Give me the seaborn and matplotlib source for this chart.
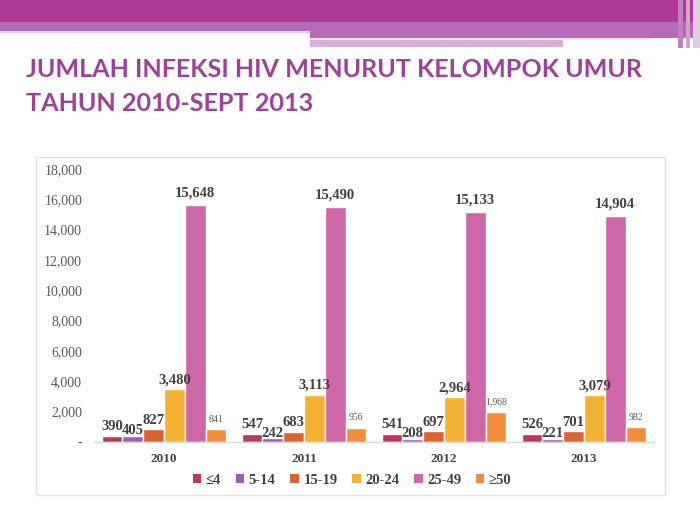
import matplotlib
matplotlib.use("Agg")
import matplotlib.pyplot as plt
from matplotlib.patches import Rectangle
import seaborn as sns
import pandas as pd

years = ["2010", "2011", "2012", "2013"]
groups = ["≤4", "5-14", "15-19", "20-24", "25-49", "≥50"]
v_le4 = [390, 547, 541, 526]
v_5_14 = [405, 242, 208, 221]
v_15_19 = [827, 683, 697, 701]
v_20_24 = [3480, 3113, 2964, 3079]
v_25_49 = [15648, 15490, 15133, 14904]
v_ge50 = [841, 956, 1968, 982]
yticks = [0, 2000, 4000, 6000, 8000, 10000, 12000, 14000, 16000, 18000]
ytick_labels = ["-", "2,000", "4,000", "6,000", "8,000", "10,000", "12,000", "14,000", "16,000", "18,000"]
title_text = "JUMLAH INFEKSI HIV MENURUT KELOMPOK UMUR\nTAHUN 2010-SEPT 2013"

colors = ["#C0365A", "#A15BB8", "#DA6330", "#F4B235", "#CE67A7", "#F28D3C"]

series = [v_le4, v_5_14, v_15_19, v_20_24, v_25_49, v_ge50]
rows = []
for g, vals in zip(groups, series):
    for y, v in zip(years, vals):
        rows.append({"Tahun": y, "Kelompok": g, "Jumlah": v})
df = pd.DataFrame(rows)

sns.set_theme(style="white")
W, H = 700, 525
fig = plt.figure(figsize=(7, 5.25), dpi=100)
fig.patch.set_facecolor("white")

def prect(x0, y0, x1, y1, color, z=0):
    fig.add_artist(Rectangle((x0 / W, 1 - y1 / H), (x1 - x0) / W, (y1 - y0) / H,
                             transform=fig.transFigure, facecolor=color,
                             edgecolor="none", zorder=z))

# top banner
prect(0, 0, 700, 22, "#AE3A96")
prect(0, 22, 700, 31, "#B46BB7")
prect(0, 31, 310, 33, "#E9CDE6")
prect(310, 31, 700, 38, "#B46BB7")
prect(310, 38, 650, 40, "#F2E3F1")
prect(310, 40, 563, 47, "#D5B0D8")
prect(678, 0, 683, 48, "#C27FBF", 1)
prect(686, 0, 690, 48, "#D3A2D0", 1)
prect(693, 0, 700, 48, "#E6C9E4", 1)

# title
fig.text(26 / W, 1 - 57.5 / H, title_text, ha="left", va="top",
         fontsize=18.1, fontweight="bold", color="#A1409B",
         family="Lato", linespacing=1.58)

# chart frame
fig.add_artist(Rectangle((36 / W, 1 - 495 / H), (665 - 36) / W, (495 - 157) / H,
                         transform=fig.transFigure, facecolor="none",
                         edgecolor="#E3E3E3", linewidth=1.0, zorder=0))

ax = fig.add_axes([94 / W, 1 - 442 / H, (654 - 94) / W, (442 - 169) / H])
sns.barplot(data=df, x="Tahun", y="Jumlah", hue="Kelompok", order=years,
            hue_order=groups, palette=colors, width=0.89, gap=0,
            saturation=1, ax=ax, legend=False)
ax.set_xlim(-0.5, 3.5)
ax.set_ylim(0, 18000)
ax.set_yticks(yticks)
ax.set_yticklabels(ytick_labels)
ax.set_xlabel("")
ax.set_ylabel("")
for s in ["top", "right", "left"]:
    ax.spines[s].set_visible(False)
ax.spines["bottom"].set_color("#D9D9D9")
ax.spines["bottom"].set_linewidth(1.0)
ax.tick_params(axis="y", length=0, pad=8.5, labelsize=10, labelcolor="#595959")
ax.tick_params(axis="x", length=0, pad=8, labelsize=9.5, labelcolor="#404040")
for lab in ax.get_yticklabels():
    lab.set_family("Liberation Serif")
for lab in ax.get_xticklabels():
    lab.set_family("Liberation Serif")
    lab.set_fontweight("bold")
ax.patch.set_alpha(0)

# value labels
offsets = [2, -1, 2, 2, 4, 2]
for i, cont in enumerate(ax.containers):
    for bar in cont:
        h = bar.get_height()
        xc = bar.get_x() + bar.get_width() / 2
        if i == 5:
            ax.annotate(f"{h:,.0f}", (xc, h), xytext=(0, 4), textcoords="offset points",
                        ha="center", va="bottom", fontsize=7, color="#595959",
                        family="Liberation Serif")
        else:
            ax.annotate(f"{h:,.0f}", (xc, h), xytext=(0, offsets[i]), textcoords="offset points",
                        ha="center", va="bottom", fontsize=10.5, fontweight="bold",
                        color="#404040", family="Liberation Serif")

handles = [Rectangle((0, 0), 1, 1, facecolor=c, edgecolor="none") for c in colors]
leg = fig.legend(handles, groups, loc="center", bbox_to_anchor=(352 / W, 1 - 480 / H),
                 ncol=6, frameon=False, handlelength=0.6, handleheight=0.6,
                 handletextpad=0.3, columnspacing=1.0,
                 prop={"family": ["Liberation Serif", "DejaVu Serif"], "weight": "bold", "size": 10.5})
for t in leg.get_texts():
    t.set_color("#404040")

fig.savefig("out.png", dpi=100, facecolor="white")
